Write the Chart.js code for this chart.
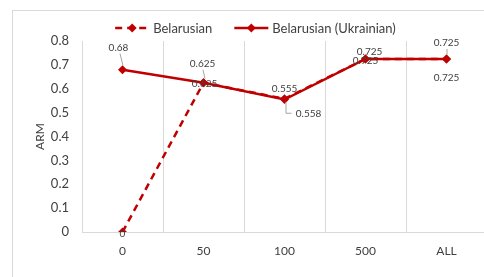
<!DOCTYPE html>
<html>
<head>
<meta charset="utf-8">
<script src="https://cdn.jsdelivr.net/npm/chart.js@4.4.0/dist/chart.umd.min.js"></script>
<style>
html, body { margin: 0; padding: 0; background: #fff; overflow: hidden; }
#wrap { width: 484px; height: 277px; overflow: hidden; }
canvas { display: block; }
</style>
</head>
<body>
<div id="wrap"><canvas id="ArmChart" width="492" height="277"></canvas></div>
<script>
// data
var categories = ['0', '50', '100', '500', 'ALL'];
var belarusian = [0, 0.625, 0.558, 0.725, 0.725];
var belarusianUkr = [0.68, 0.625, 0.555, 0.725, 0.725];
var seriesNames = ['Belarusian', 'Belarusian (Ukrainian)'];

// where each value label sits relative to its point
var labelOffsets = [
    [[0, 2], [1, 1], [24, 15], [0, 2], [0, 19]],
    [[-4, -22], [-1, -19], [0, -11], [4, -7], [0, -16]]
];
var leaders = [
    [null, null, 'elbow', null, null],
    [[-3, -16, 0, -4], [-1, -13, 1, -4], null, null, [0, -10, 0, -4]]
];

var red = '#C00000';
var textGray = '#404040';
var fontName = 'Lato, "Open Sans", sans-serif';

var framePlugin = {
    id: 'frame',
    beforeDraw: function (chart) {
        var c = chart.ctx;
        c.save();
        c.fillStyle = '#fff';
        c.fillRect(0, 0, chart.width, chart.height);
        c.strokeStyle = '#d9d9d9';
        c.lineWidth = 1;
        c.strokeRect(12.5, 10.5, 600, 400);
        c.restore();
    }
};

var valueLabels = {
    id: 'valueLabels',
    afterDatasetsDraw: function (chart) {
        var c = chart.ctx;
        c.save();
        c.font = '10px ' + fontName;
        c.textAlign = 'center';
        c.textBaseline = 'middle';
        chart.data.datasets.forEach(function (ds, di) {
            var meta = chart.getDatasetMeta(di);
            meta.data.forEach(function (pt, i) {
                var off = labelOffsets[di][i];
                var lx = pt.x + off[0], ly = pt.y + off[1];
                var ld = leaders[di][i];
                c.strokeStyle = '#a6a6a6';
                c.lineWidth = 1;
                if (ld === 'elbow') {
                    c.beginPath();
                    c.moveTo(pt.x + 1.5, pt.y + 3);
                    c.lineTo(pt.x + 1.5, pt.y + 14.5);
                    c.lineTo(pt.x + 7, pt.y + 14.5);
                    c.stroke();
                } else if (ld) {
                    c.beginPath();
                    c.moveTo(pt.x + ld[0] + 0.5, pt.y + ld[1]);
                    c.lineTo(pt.x + ld[2] + 0.5, pt.y + ld[3]);
                    c.stroke();
                }
                c.fillStyle = textGray;
                c.fillText(String(ds.data[i]), lx, ly);
            });
        });
        c.restore();
    }
};

var legendPlugin = {
    id: 'customLegend',
    afterDraw: function (chart) {
        var c = chart.ctx;
        c.save();
        c.font = '13px ' + fontName;
        c.textBaseline = 'middle';
        var sym = 34, gap = 4, itemGap = 22, y = 28;
        var widths = seriesNames.map(function (n) { return sym + gap + c.measureText(n).width; });
        var total = widths[0] + itemGap + widths[1];
        var x = 255.5 - total / 2;
        chart.data.datasets.forEach(function (ds, i) {
            c.strokeStyle = ds.borderColor;
            c.lineWidth = 2.5;
            c.setLineDash(ds.borderDash || []);
            c.beginPath();
            c.moveTo(x, y);
            c.lineTo(x + sym, y);
            c.stroke();
            c.setLineDash([]);
            c.fillStyle = ds.borderColor;
            c.beginPath();
            c.moveTo(x + sym / 2, y - 4.5);
            c.lineTo(x + sym / 2 + 4.5, y);
            c.lineTo(x + sym / 2, y + 4.5);
            c.lineTo(x + sym / 2 - 4.5, y);
            c.closePath();
            c.fill();
            c.fillStyle = textGray;
            c.fillText(ds.label, x + sym + gap, y + 1);
            x += widths[i] + itemGap;
        });
        c.restore();
    }
};

var ctx = document.getElementById('ArmChart');
var armChart = new Chart(ctx, {
    type: 'line',
    data: {
        labels: categories,
        datasets: [
            {
                label: seriesNames[0],
                data: belarusian,
                borderColor: red,
                backgroundColor: red,
                borderWidth: 2.5,
                borderDash: [7, 5],
                pointStyle: 'rectRot',
                pointRadius: 4.5,
                pointBorderWidth: 0,
                order: 1
            },
            {
                label: seriesNames[1],
                data: belarusianUkr,
                borderColor: red,
                backgroundColor: red,
                borderWidth: 2.5,
                pointStyle: 'rectRot',
                pointRadius: 4.5,
                pointBorderWidth: 0,
                order: 0
            }
        ]
    },
    options: {
        responsive: false,
        animation: false,
        devicePixelRatio: 1,
        layout: { padding: { left: 12, top: 41, right: 5, bottom: 0 } },
        plugins: {
            legend: { display: false },
            tooltip: { enabled: false }
        },
        scales: {
            x: {
                offset: true,
                grid: { offset: true, color: '#d9d9d9', lineWidth: 1, drawTicks: false },
                border: { color: '#d9d9d9', width: 1 },
                ticks: { color: textGray, font: { family: fontName, size: 12 }, padding: 12 },
                afterFit: function (s) { s.height = 45; }
            },
            y: {
                min: 0,
                max: 0.8,
                ticks: { stepSize: 0.1, color: textGray, font: { family: fontName, size: 13 }, padding: 13 },
                grid: { display: false, drawTicks: false },
                border: { display: false },
                title: { display: true, text: 'ARM', color: textGray, font: { family: fontName, size: 12 }, padding: { top: 21, bottom: 0 } },
                afterFit: function (s) { s.width = 70; }
            }
        }
    },
    plugins: [framePlugin, valueLabels, legendPlugin]
});
</script>
</body>
</html>
